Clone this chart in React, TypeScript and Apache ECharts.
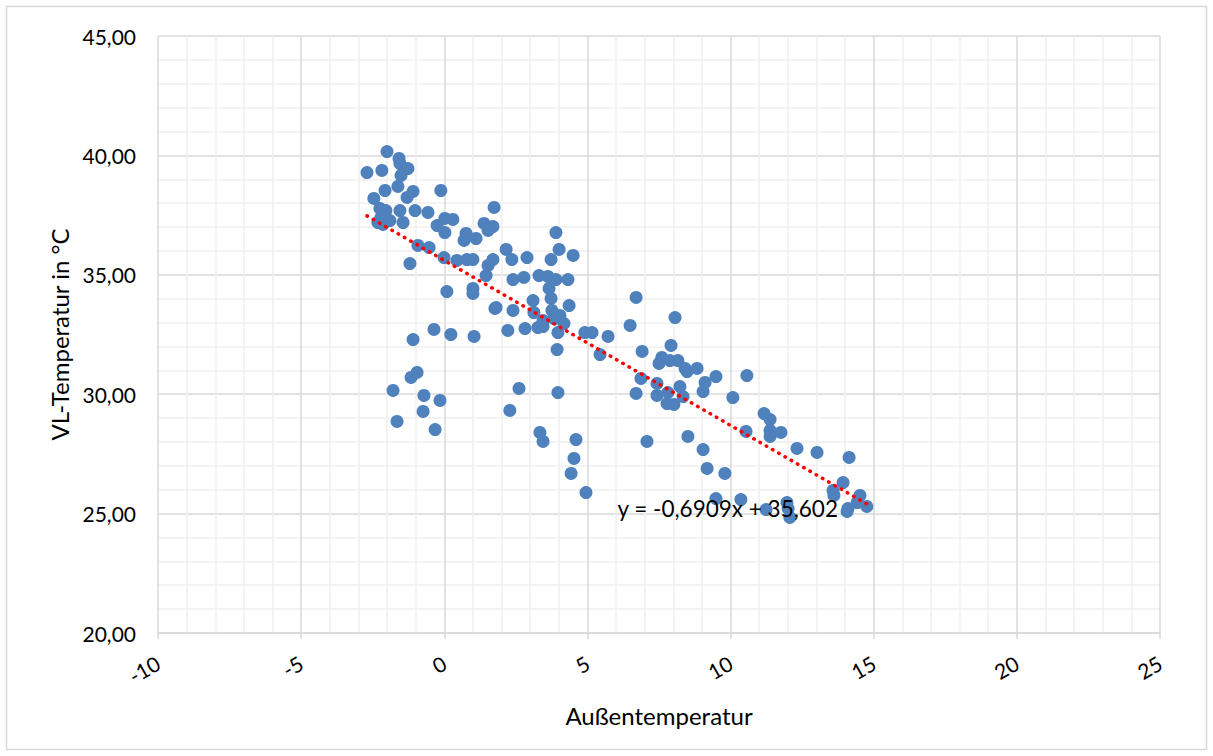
import React, { useEffect, useRef } from "react";
import * as echarts from "echarts";

// Außentemperatur (x) and VL-Temperatur (y) pairs
const outsideTemp: number[] = [
  -2.0, -1.58, -1.55, -1.27, -2.7, -2.18, -1.51, -1.62, -2.07, -1.09,
  -1.3, -0.12, -2.46, -2.25, -2.04, -1.55, -1.02, -0.57, -2.21, -1.9,
  -1.44, -2.32, -2.14, -0.25, 0.02, 0.3, 0.02, 1.74, 1.39, 1.7,
  1.53, 0.76, 1.11, 0.69, -0.92, -0.53, -0.01, 0.44, 0.79, 1.0,
  -1.2, 1.7, 1.53, 1.46, 0.09, 1.0, 1.0, 1.77, -0.36, -1.09,
  0.23, 1.04, -0.95, -1.16, -1.79, -0.71, -0.15, -0.74, -1.65, -0.32,
  3.9, 2.16, 2.36, 2.89, 4.01, 4.5, 3.73, 2.4, 2.78, 3.31,
  3.62, 3.9, 4.32, 3.66, 3.73, 3.1, 1.81, 2.4, 3.13, 3.76,
  4.36, 4.04, 3.83, 3.45, 2.22, 2.82, 3.27, 4.91, 5.16, 3.97,
  4.18, 3.94, 5.72, 5.44, 2.61, 3.97, 2.29, 3.34, 3.45, 4.6,
  4.53, 4.43, 4.95, 3.45,
  6.7, 8.06, 6.49, 7.92, 6.91, 7.6, 7.5, 7.88, 8.16, 8.41,
  8.48, 8.83, 9.49, 10.57, 9.11, 9.04, 6.87, 7.43, 8.23, 6.7,
  7.43, 7.81, 8.34, 7.78, 8.02, 10.08, 11.17, 11.38, 11.38, 11.38,
  11.76, 10.54, 7.08, 8.51, 9.04, 9.18, 9.8, 9.49, 10.36, 11.24,
  12.01, 12.07, 12.32, 13.02, 14.14, 13.93, 13.58, 13.61, 14.52, 14.76,
  14.1, 14.07, 11.97, 14.42,
];
const flowTemp: number[] = [
  40.16, 39.87, 39.66, 39.45, 39.28, 39.37, 39.16, 38.7, 38.53, 38.49,
  38.24, 38.53, 38.2, 37.78, 37.69, 37.69, 37.69, 37.61, 37.4, 37.27,
  37.19, 37.19, 37.11, 37.06, 37.36, 37.32, 36.77, 37.82, 37.15, 37.02,
  36.86, 36.73, 36.52, 36.44, 36.23, 36.14, 35.72, 35.6, 35.64, 35.64,
  35.47, 35.64, 35.39, 34.97, 34.3, 34.43, 34.22, 33.59, 32.71, 32.29,
  32.5, 32.42, 30.91, 30.7, 30.16, 29.95, 29.74, 29.28, 28.86, 28.52,
  36.77, 36.06, 35.64, 35.72, 36.06, 35.81, 35.64, 34.8, 34.89, 34.97,
  34.93, 34.8, 34.8, 34.43, 34.01, 33.92, 33.63, 33.51, 33.42, 33.51,
  33.71, 33.3, 33.17, 33.09, 32.67, 32.75, 32.79, 32.58, 32.58, 32.58,
  32.96, 31.87, 32.42, 31.66, 30.24, 30.07, 29.32, 28.4, 28.02, 28.1,
  27.31, 26.68, 25.88, 32.83,
  34.05, 33.21, 32.88, 32.04, 31.79, 31.54, 31.29, 31.41, 31.41, 31.08,
  30.95, 31.08, 30.74, 30.78, 30.49, 30.11, 30.66, 30.45, 30.32, 30.03,
  29.95, 30.07, 29.9, 29.61, 29.57, 29.86, 29.19, 28.94, 28.48, 28.23,
  28.4, 28.44, 28.02, 28.23, 27.68, 26.89, 26.68, 25.63, 25.59, 25.17,
  25.21, 24.84, 27.73, 27.56, 27.35, 26.3, 25.97, 25.76, 25.76, 25.3,
  25.21, 25.09, 25.46, 25.46,
];

// Linear trend line (as printed on the chart)
const trendSlope = -0.6909;
const trendIntercept = 35.602;
const trendLabel = "y = -0,6909x + 35,602";
const trendLabelAt = [9.9, 25.2];

const xTicks = { min: -10, max: 25, interval: 5 };
const yTicks = { min: 20, max: 45, interval: 5 };
const xTitle = "Außentemperatur";
const yTitle = "VL-Temperatur in °C";

const FONT = "Lato, 'Open Sans', sans-serif";

export default function App() {
  const ref = useRef<HTMLDivElement>(null);

  useEffect(() => {
    if (!ref.current) return;
    const chart = echarts.init(ref.current, null, { renderer: "svg" });

    const points = outsideTemp.map((x, i) => [x, flowTemp[i]]);
    const xMin = Math.min(...outsideTemp);
    const xMax = Math.max(...outsideTemp);
    const trend = [
      [xMin, trendSlope * xMin + trendIntercept],
      [xMax, trendSlope * xMax + trendIntercept],
    ];

    chart.setOption({
      animation: false,
      backgroundColor: "#ffffff",
      textStyle: { fontFamily: FONT },
      grid: { left: 158, right: 53, top: 36, bottom: 123, containLabel: false },
      xAxis: {
        type: "value",
        min: xTicks.min,
        max: xTicks.max,
        interval: xTicks.interval,
        name: xTitle,
        nameLocation: "middle",
        nameGap: 70,
        nameTextStyle: { fontSize: 24, color: "#000", fontFamily: FONT },
        axisLine: { show: true, onZero: false, lineStyle: { color: "#d9d9d9", width: 1.5 } },
        axisTick: { show: true, length: 6, lineStyle: { color: "#d9d9d9", width: 1.5 } },
        axisLabel: {
          rotate: 30,
          margin: 28,
          fontSize: 21,
          color: "#000",
          fontFamily: FONT,
        },
        splitLine: { show: true, lineStyle: { color: "#d9d9d9", width: 1.5 } },
        minorTick: { show: false, splitNumber: 5 },
        minorSplitLine: { show: true, lineStyle: { color: "#efefef", width: 1.5 } },
      },
      yAxis: {
        type: "value",
        min: yTicks.min,
        max: yTicks.max,
        interval: yTicks.interval,
        name: yTitle,
        nameLocation: "middle",
        nameGap: 86,
        nameTextStyle: { fontSize: 24, color: "#000", fontFamily: FONT },
        axisLine: { show: false },
        axisTick: { show: false },
        axisLabel: {
          margin: 22,
          fontSize: 21,
          color: "#000",
          fontFamily: FONT,
          formatter: (v: number) => v.toFixed(2).replace(".", ","),
        },
        splitLine: { show: true, lineStyle: { color: "#d9d9d9", width: 1.5 } },
        minorTick: { show: false, splitNumber: 5 },
        minorSplitLine: { show: true, lineStyle: { color: "#efefef", width: 1.5 } },
      },
      graphic: [
        {
          type: "rect",
          shape: { x: 6.5, y: 6.5, width: 1200, height: 743 },
          style: { fill: "none", stroke: "#d9d9d9", lineWidth: 1.5 },
          silent: true,
          z: -10,
        },
      ],
      series: [
        {
          type: "scatter",
          data: points,
          symbol: "circle",
          symbolSize: 13,
          itemStyle: { color: "#4f81bd", opacity: 1 },
          z: 2,
        },
        {
          type: "line",
          data: trend,
          symbol: "none",
          lineStyle: { color: "#ff0000", width: 3.5, type: [0.5, 6.7], cap: "round" },
          z: 3,
          silent: true,
          markPoint: {
            symbol: "rect",
            symbolSize: 1,
            itemStyle: { color: "rgba(0,0,0,0)" },
            data: [
              {
                coord: trendLabelAt,
                label: {
                  show: true,
                  formatter: trendLabel,
                  color: "#000",
                  fontSize: 22.5,
                  fontFamily: FONT,
                  position: "inside",
                },
              },
            ],
          },
        },
      ],
    });

    return () => chart.dispose();
  }, []);

  return (
    <div
      ref={ref}
      style={{ position: "fixed", left: 0, top: 0, width: 1213, height: 756 }}
    />
  );
}
